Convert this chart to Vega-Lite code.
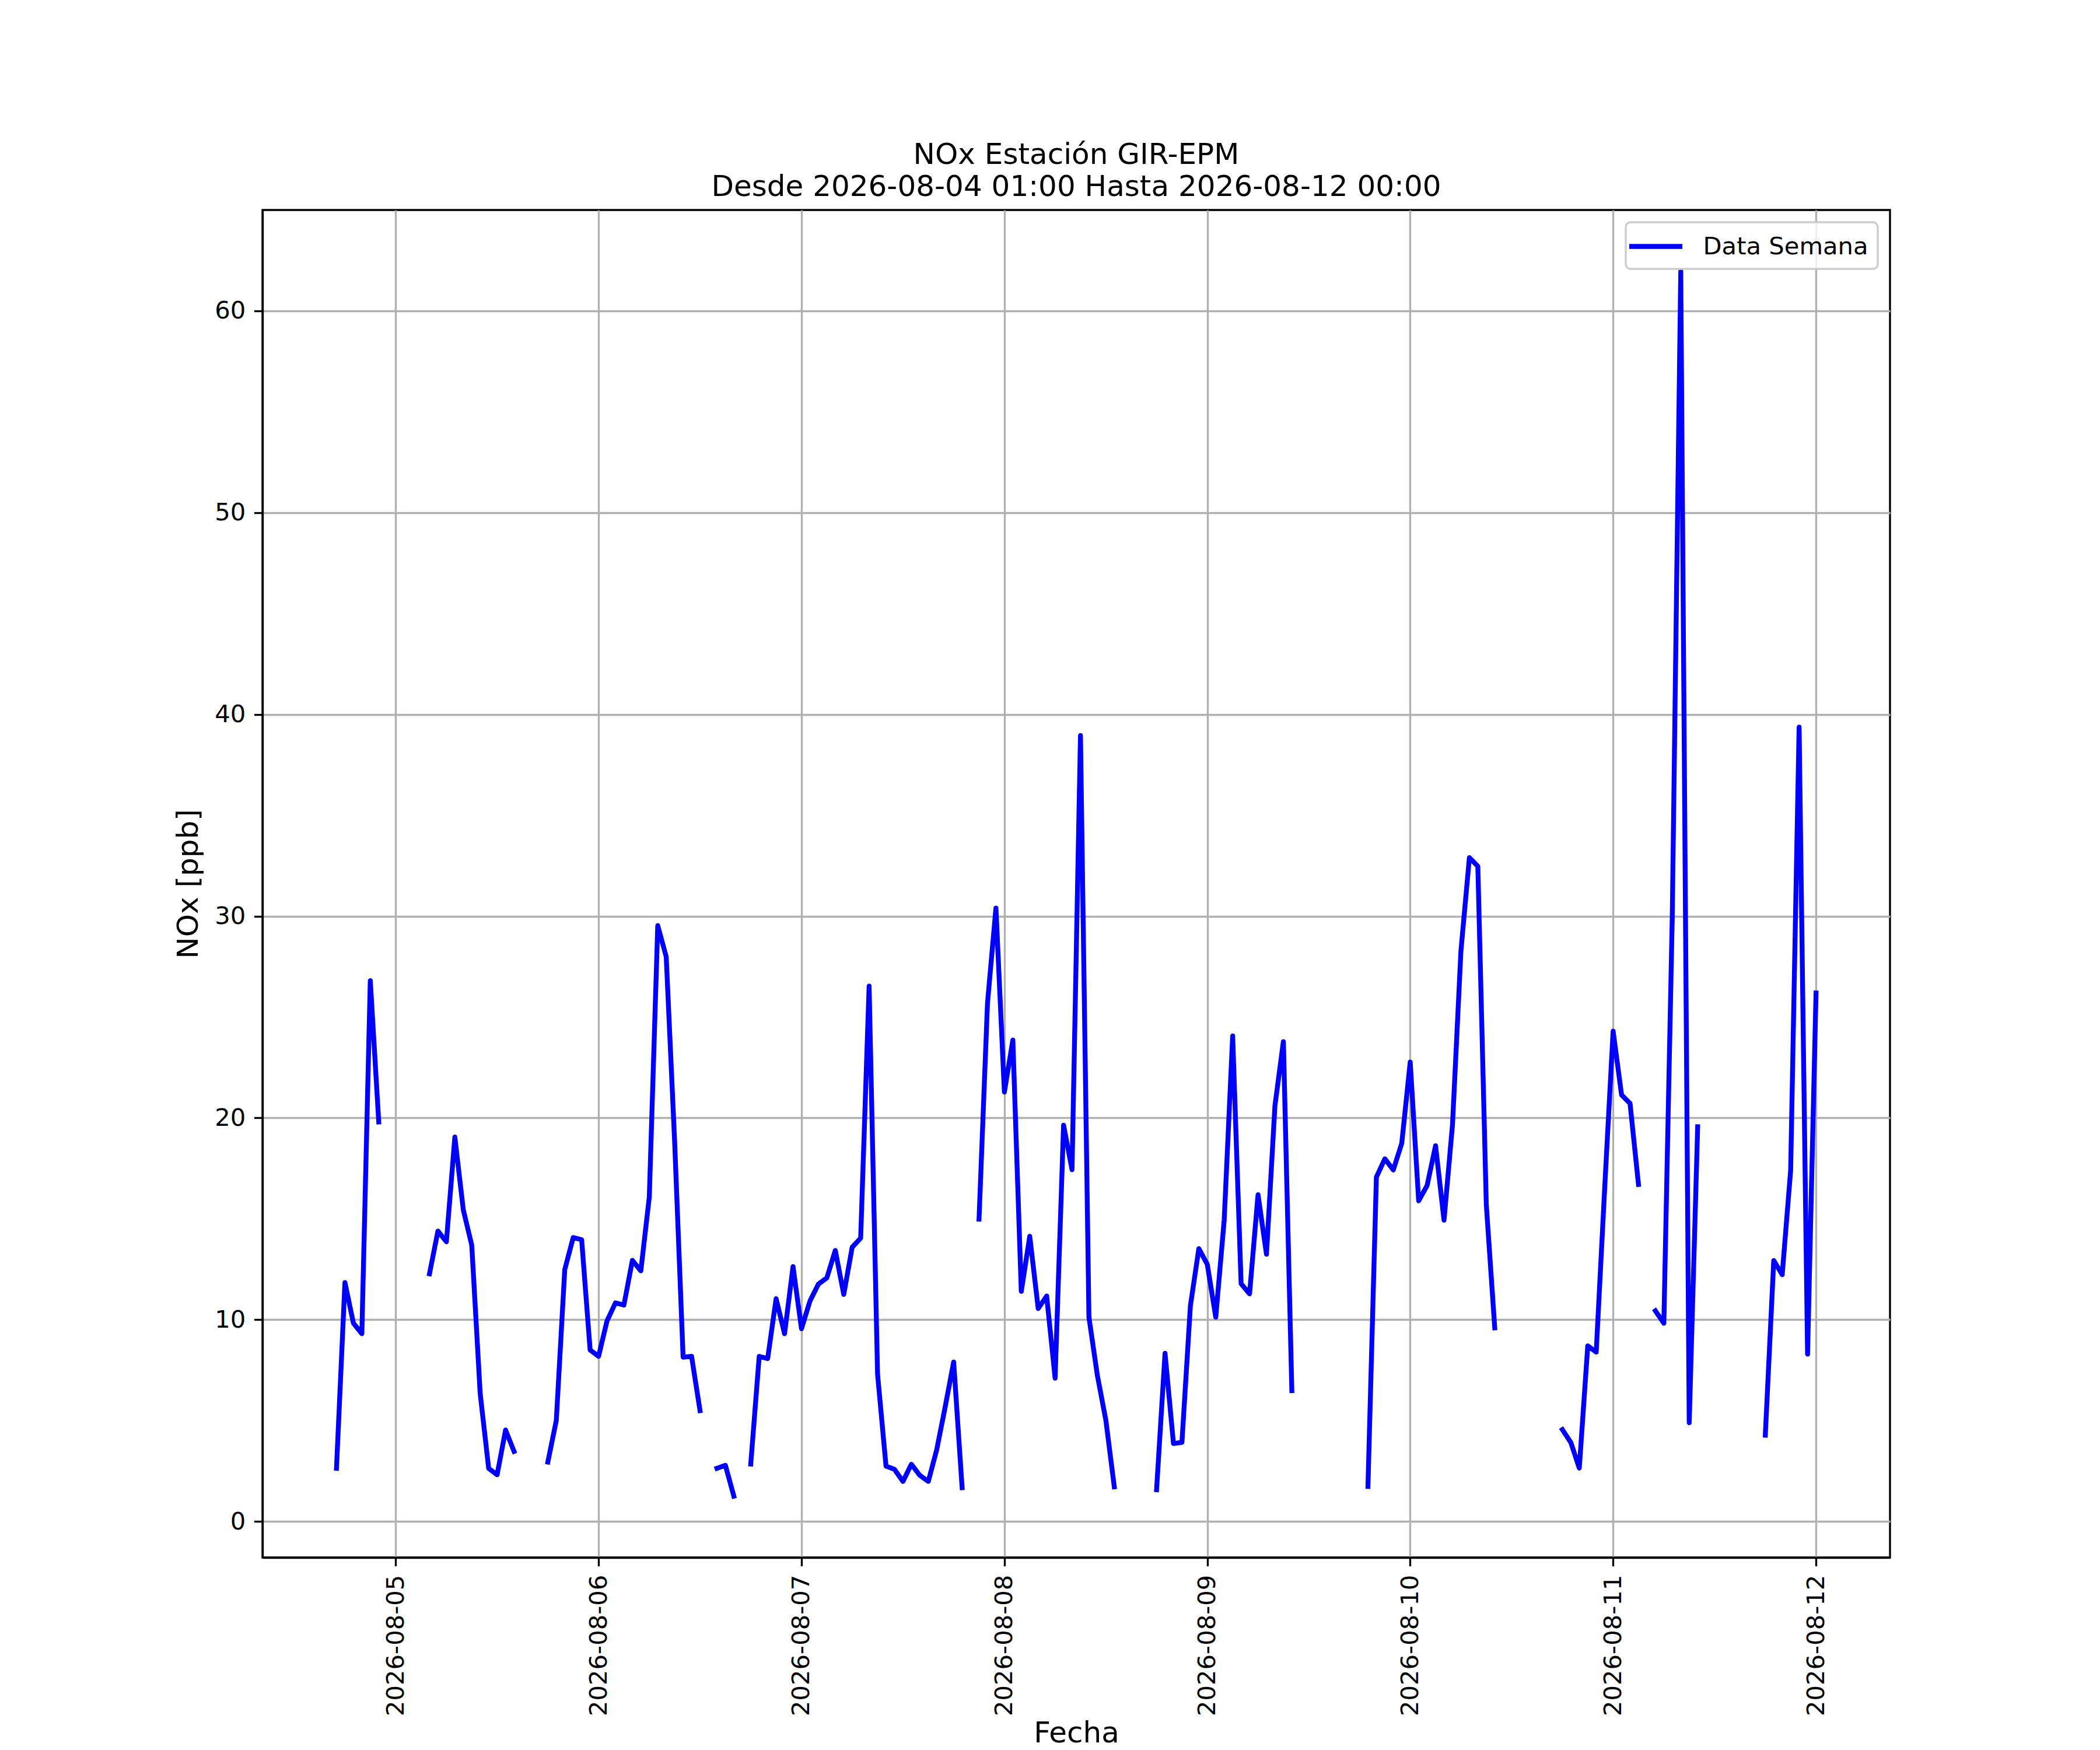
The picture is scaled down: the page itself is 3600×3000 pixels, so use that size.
{
  "$schema": "https://vega.github.io/schema/vega-lite/v6.json",
  "width": 2790,
  "height": 2310,
  "autosize": {"type": "none"},
  "padding": {"left": 450, "top": 360, "right": 360, "bottom": 330},
  "background": "white",
  "title": {
    "text": ["NOx Estación GIR-EPM", "Desde 2026-08-04 01:00 Hasta 2026-08-12 00:00"],
    "font": "DejaVu Sans",
    "fontSize": 50,
    "fontWeight": "normal",
    "color": "black",
    "lineHeight": 55,
    "offset": 14,
    "anchor": "middle"
  },
  "data": {
    "values": [
      {"t": "2026-08-04T17:00", "v": 2.63},
      {"t": "2026-08-04T18:00", "v": 11.84},
      {"t": "2026-08-04T19:00", "v": 9.83},
      {"t": "2026-08-04T20:00", "v": 9.3},
      {"t": "2026-08-04T21:00", "v": 26.8},
      {"t": "2026-08-04T22:00", "v": 19.8},
      {"t": "2026-08-04T23:00", "v": null},
      {"t": "2026-08-05T00:00", "v": null},
      {"t": "2026-08-05T01:00", "v": null},
      {"t": "2026-08-05T02:00", "v": null},
      {"t": "2026-08-05T03:00", "v": null},
      {"t": "2026-08-05T04:00", "v": 12.27},
      {"t": "2026-08-05T05:00", "v": 14.39},
      {"t": "2026-08-05T06:00", "v": 13.86},
      {"t": "2026-08-05T07:00", "v": 19.05},
      {"t": "2026-08-05T08:00", "v": 15.44},
      {"t": "2026-08-05T09:00", "v": 13.69},
      {"t": "2026-08-05T10:00", "v": 6.33},
      {"t": "2026-08-05T11:00", "v": 2.63},
      {"t": "2026-08-05T12:00", "v": 2.31},
      {"t": "2026-08-05T13:00", "v": 4.53},
      {"t": "2026-08-05T14:00", "v": 3.47},
      {"t": "2026-08-05T15:00", "v": null},
      {"t": "2026-08-05T16:00", "v": null},
      {"t": "2026-08-05T17:00", "v": null},
      {"t": "2026-08-05T18:00", "v": 2.94},
      {"t": "2026-08-05T19:00", "v": 5.0},
      {"t": "2026-08-05T20:00", "v": 12.48},
      {"t": "2026-08-05T21:00", "v": 14.07},
      {"t": "2026-08-05T22:00", "v": 13.96},
      {"t": "2026-08-05T23:00", "v": 8.5},
      {"t": "2026-08-06T00:00", "v": 8.18},
      {"t": "2026-08-06T01:00", "v": 9.94},
      {"t": "2026-08-06T02:00", "v": 10.83},
      {"t": "2026-08-06T03:00", "v": 10.72},
      {"t": "2026-08-06T04:00", "v": 12.94},
      {"t": "2026-08-06T05:00", "v": 12.42},
      {"t": "2026-08-06T06:00", "v": 16.08},
      {"t": "2026-08-06T07:00", "v": 29.53},
      {"t": "2026-08-06T08:00", "v": 27.99},
      {"t": "2026-08-06T09:00", "v": 18.8},
      {"t": "2026-08-06T10:00", "v": 8.14},
      {"t": "2026-08-06T11:00", "v": 8.18},
      {"t": "2026-08-06T12:00", "v": 5.49},
      {"t": "2026-08-06T13:00", "v": null},
      {"t": "2026-08-06T14:00", "v": 2.63},
      {"t": "2026-08-06T15:00", "v": 2.78},
      {"t": "2026-08-06T16:00", "v": 1.25},
      {"t": "2026-08-06T17:00", "v": null},
      {"t": "2026-08-06T18:00", "v": 2.84},
      {"t": "2026-08-06T19:00", "v": 8.18},
      {"t": "2026-08-06T20:00", "v": 8.07},
      {"t": "2026-08-06T21:00", "v": 11.04},
      {"t": "2026-08-06T22:00", "v": 9.3},
      {"t": "2026-08-06T23:00", "v": 12.63},
      {"t": "2026-08-07T00:00", "v": 9.55},
      {"t": "2026-08-07T01:00", "v": 10.92},
      {"t": "2026-08-07T02:00", "v": 11.76},
      {"t": "2026-08-07T03:00", "v": 12.07},
      {"t": "2026-08-07T04:00", "v": 13.43},
      {"t": "2026-08-07T05:00", "v": 11.25},
      {"t": "2026-08-07T06:00", "v": 13.59},
      {"t": "2026-08-07T07:00", "v": 14.04},
      {"t": "2026-08-07T08:00", "v": 26.53},
      {"t": "2026-08-07T09:00", "v": 7.29},
      {"t": "2026-08-07T10:00", "v": 2.74},
      {"t": "2026-08-07T11:00", "v": 2.58},
      {"t": "2026-08-07T12:00", "v": 1.98},
      {"t": "2026-08-07T13:00", "v": 2.83},
      {"t": "2026-08-07T14:00", "v": 2.28},
      {"t": "2026-08-07T15:00", "v": 1.98},
      {"t": "2026-08-07T16:00", "v": 3.56},
      {"t": "2026-08-07T17:00", "v": 5.68},
      {"t": "2026-08-07T18:00", "v": 7.9},
      {"t": "2026-08-07T19:00", "v": 1.67},
      {"t": "2026-08-07T20:00", "v": null},
      {"t": "2026-08-07T21:00", "v": 14.98},
      {"t": "2026-08-07T22:00", "v": 25.68},
      {"t": "2026-08-07T23:00", "v": 30.4},
      {"t": "2026-08-08T00:00", "v": 21.28},
      {"t": "2026-08-08T01:00", "v": 23.86},
      {"t": "2026-08-08T02:00", "v": 11.4},
      {"t": "2026-08-08T03:00", "v": 14.13},
      {"t": "2026-08-08T04:00", "v": 10.55},
      {"t": "2026-08-08T05:00", "v": 11.17},
      {"t": "2026-08-08T06:00", "v": 7.1},
      {"t": "2026-08-08T07:00", "v": 19.64},
      {"t": "2026-08-08T08:00", "v": 17.43},
      {"t": "2026-08-08T09:00", "v": 38.95},
      {"t": "2026-08-08T10:00", "v": 10.12},
      {"t": "2026-08-08T11:00", "v": 7.23},
      {"t": "2026-08-08T12:00", "v": 5.02},
      {"t": "2026-08-08T13:00", "v": 1.71},
      {"t": "2026-08-08T14:00", "v": null},
      {"t": "2026-08-08T15:00", "v": null},
      {"t": "2026-08-08T16:00", "v": null},
      {"t": "2026-08-08T17:00", "v": null},
      {"t": "2026-08-08T18:00", "v": 1.57},
      {"t": "2026-08-08T19:00", "v": 8.33},
      {"t": "2026-08-08T20:00", "v": 3.86},
      {"t": "2026-08-08T21:00", "v": 3.92},
      {"t": "2026-08-08T22:00", "v": 10.68},
      {"t": "2026-08-08T23:00", "v": 13.52},
      {"t": "2026-08-09T00:00", "v": 12.74},
      {"t": "2026-08-09T01:00", "v": 10.12},
      {"t": "2026-08-09T02:00", "v": 14.95},
      {"t": "2026-08-09T03:00", "v": 24.06},
      {"t": "2026-08-09T04:00", "v": 11.78},
      {"t": "2026-08-09T05:00", "v": 11.28},
      {"t": "2026-08-09T06:00", "v": 16.19},
      {"t": "2026-08-09T07:00", "v": 13.24},
      {"t": "2026-08-09T08:00", "v": 20.6},
      {"t": "2026-08-09T09:00", "v": 23.78},
      {"t": "2026-08-09T10:00", "v": 6.48},
      {"t": "2026-08-09T11:00", "v": null},
      {"t": "2026-08-09T12:00", "v": null},
      {"t": "2026-08-09T13:00", "v": null},
      {"t": "2026-08-09T14:00", "v": null},
      {"t": "2026-08-09T15:00", "v": null},
      {"t": "2026-08-09T16:00", "v": null},
      {"t": "2026-08-09T17:00", "v": null},
      {"t": "2026-08-09T18:00", "v": null},
      {"t": "2026-08-09T19:00", "v": 1.73},
      {"t": "2026-08-09T20:00", "v": 17.06},
      {"t": "2026-08-09T21:00", "v": 17.97},
      {"t": "2026-08-09T22:00", "v": 17.42},
      {"t": "2026-08-09T23:00", "v": 18.74},
      {"t": "2026-08-10T00:00", "v": 22.77},
      {"t": "2026-08-10T01:00", "v": 15.89},
      {"t": "2026-08-10T02:00", "v": 16.65},
      {"t": "2026-08-10T03:00", "v": 18.62},
      {"t": "2026-08-10T04:00", "v": 14.93},
      {"t": "2026-08-10T05:00", "v": 19.65},
      {"t": "2026-08-10T06:00", "v": 28.28},
      {"t": "2026-08-10T07:00", "v": 32.9},
      {"t": "2026-08-10T08:00", "v": 32.47},
      {"t": "2026-08-10T09:00", "v": 15.7},
      {"t": "2026-08-10T10:00", "v": 9.59},
      {"t": "2026-08-10T11:00", "v": null},
      {"t": "2026-08-10T12:00", "v": null},
      {"t": "2026-08-10T13:00", "v": null},
      {"t": "2026-08-10T14:00", "v": null},
      {"t": "2026-08-10T15:00", "v": null},
      {"t": "2026-08-10T16:00", "v": null},
      {"t": "2026-08-10T17:00", "v": null},
      {"t": "2026-08-10T18:00", "v": 4.55},
      {"t": "2026-08-10T19:00", "v": 3.91},
      {"t": "2026-08-10T20:00", "v": 2.64},
      {"t": "2026-08-10T21:00", "v": 8.7},
      {"t": "2026-08-10T22:00", "v": 8.39},
      {"t": "2026-08-10T23:00", "v": 16.5},
      {"t": "2026-08-11T00:00", "v": 24.3},
      {"t": "2026-08-11T01:00", "v": 21.14},
      {"t": "2026-08-11T02:00", "v": 20.72},
      {"t": "2026-08-11T03:00", "v": 16.7},
      {"t": "2026-08-11T04:00", "v": null},
      {"t": "2026-08-11T05:00", "v": 10.44},
      {"t": "2026-08-11T06:00", "v": 9.82},
      {"t": "2026-08-11T07:00", "v": 30.05},
      {"t": "2026-08-11T08:00", "v": 61.96},
      {"t": "2026-08-11T09:00", "v": 4.89},
      {"t": "2026-08-11T10:00", "v": 19.56},
      {"t": "2026-08-11T11:00", "v": null},
      {"t": "2026-08-11T12:00", "v": null},
      {"t": "2026-08-11T13:00", "v": null},
      {"t": "2026-08-11T14:00", "v": null},
      {"t": "2026-08-11T15:00", "v": null},
      {"t": "2026-08-11T16:00", "v": null},
      {"t": "2026-08-11T17:00", "v": null},
      {"t": "2026-08-11T18:00", "v": 4.27},
      {"t": "2026-08-11T19:00", "v": 12.93},
      {"t": "2026-08-11T20:00", "v": 12.23},
      {"t": "2026-08-11T21:00", "v": 17.41},
      {"t": "2026-08-11T22:00", "v": 39.37},
      {"t": "2026-08-11T23:00", "v": 8.29},
      {"t": "2026-08-12T00:00", "v": 26.19}
    ]
  },
  "mark": {
    "type": "line",
    "strokeWidth": 8.33,
    "strokeCap": "square",
    "strokeJoin": "round"
  },
  "encoding": {
    "x": {
      "field": "t",
      "type": "temporal",
      "title": "Fecha",
      "scale": {
        "domain": [
          {"year": 2026, "month": 8, "date": 4, "hours": 8, "minutes": 15},
          {"year": 2026, "month": 8, "date": 12, "hours": 8, "minutes": 45}
        ],
        "nice": false
      },
      "axis": {
        "format": "%Y-%m-%d",
        "labelAngle": 270,
        "tickCount": {"interval": "day", "step": 1},
        "labelPadding": 14.6,
        "titleBaseline": "alphabetic",
        "titleY": 316,
        "labelFlush": false,
        "labelOverlap": false,
        "labelLimit": 0
      }
    },
    "y": {
      "field": "v",
      "type": "quantitative",
      "title": "NOx [ppb]",
      "scale": {"domain": [-1.79, 65.0], "nice": false, "zero": false},
      "axis": {
        "values": [0, 10, 20, 30, 40, 50, 60],
        "labelPadding": 14.6,
        "titlePadding": 19
      }
    },
    "color": {
      "datum": "Data Semana",
      "type": "nominal",
      "scale": {"range": ["#0000ff"]},
      "legend": {
        "title": null,
        "orient": "top-right",
        "offset": 21,
        "symbolType": "M-2.17,0H2.17",
        "symbolSize": 1764,
        "symbolStrokeWidth": 8.33,
        "symbolOffset": 10,
        "labelOffset": 55.5,
        "labelLimit": 0,
        "padding": 16,
        "strokeColor": "#cccccc",
        "fillColor": "rgba(255,255,255,0.8)",
        "cornerRadius": 8
      }
    }
  },
  "config": {
    "font": "DejaVu Sans",
    "view": {"stroke": "black", "strokeWidth": 3.33},
    "axis": {
      "labelFont": "DejaVu Sans",
      "labelFontSize": 41.7,
      "labelColor": "black",
      "titleFont": "DejaVu Sans",
      "titleFontSize": 50,
      "titleFontWeight": "normal",
      "titleColor": "black",
      "tickSize": 14.6,
      "tickWidth": 3.33,
      "tickColor": "black",
      "domainColor": "black",
      "domainWidth": 3.33,
      "grid": true,
      "gridColor": "#b0b0b0",
      "gridWidth": 3.33
    },
    "legend": {
      "labelFont": "DejaVu Sans",
      "labelFontSize": 41.7,
      "labelColor": "black",
      "strokeWidth": 3.33
    }
  }
}
